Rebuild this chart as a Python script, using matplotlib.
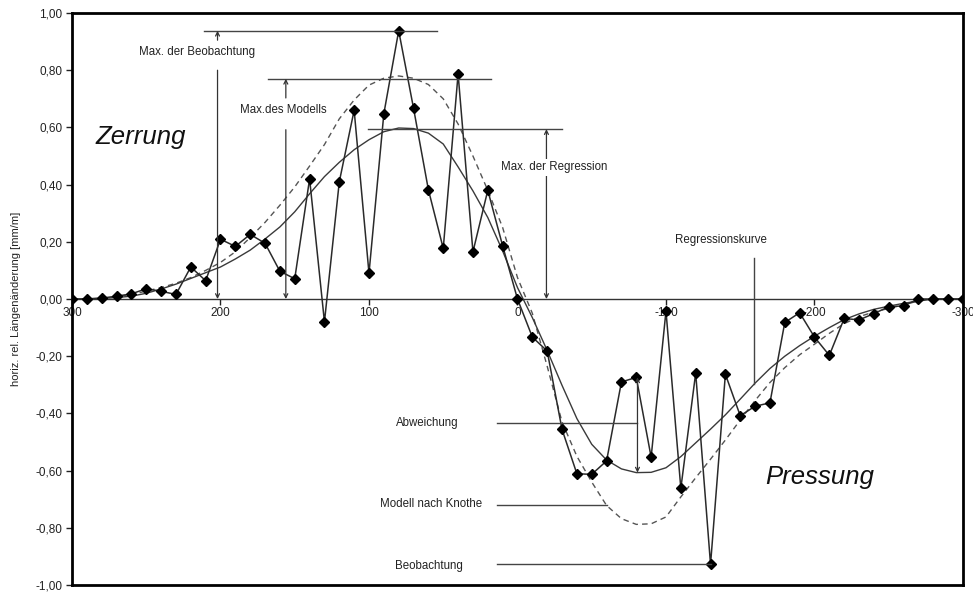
import numpy as np
import matplotlib
matplotlib.use("Agg")
import matplotlib.pyplot as plt

plt.rcParams['font.family'] = ['Liberation Sans', 'DejaVu Sans']

# Distance from the edge of the working [m]; every 10 m from 300 to -300
distance = list(range(300, -301, -10))

# Observed horizontal relative length change [mm/m]
observed = [
    0.000, 0.000, 0.003, 0.010, 0.018, 0.036, 0.027, 0.016, 0.112, 0.064,
    0.209, 0.184, 0.226, 0.195, 0.097, 0.071, 0.420, -0.080, 0.410, 0.660,
    0.090, 0.648, 0.938, 0.667, 0.382, 0.177, 0.787, 0.165, 0.380, 0.186,
    0.000,
    -0.133, -0.182, -0.456, -0.611, -0.613, -0.566, -0.290, -0.274, -0.553,
    -0.042, -0.662, -0.259, -0.928, -0.263, -0.408, -0.375, -0.363, -0.082,
    -0.048, -0.133, -0.197, -0.068, -0.073, -0.051, -0.027, -0.024, 0.000,
    0.000, 0.000, 0.000,
]

# Regression curve through the observations
regression = [
    0.000, 0.000, 0.002, 0.005, 0.010, 0.020, 0.035, 0.052, 0.072, 0.092,
    0.112, 0.140, 0.171, 0.210, 0.252, 0.305, 0.368, 0.428, 0.478, 0.522,
    0.557, 0.585, 0.598, 0.596, 0.580, 0.542, 0.462, 0.378, 0.285, 0.168,
    0.040,
    -0.065, -0.180, -0.302, -0.418, -0.508, -0.563, -0.594, -0.607, -0.606,
    -0.590, -0.551, -0.503, -0.455, -0.405, -0.350, -0.294, -0.243, -0.200,
    -0.163, -0.130, -0.100, -0.072, -0.052, -0.036, -0.025, -0.015, -0.007,
    0.000, 0.000, 0.000,
]

# Model after Knothe
model = [
    0.000, 0.001, 0.003, 0.008, 0.015, 0.028, 0.040, 0.055, 0.075, 0.100,
    0.128, 0.165, 0.215, 0.268, 0.328, 0.392, 0.465, 0.540, 0.630, 0.696,
    0.748, 0.772, 0.780, 0.772, 0.750, 0.700, 0.612, 0.500, 0.380, 0.250,
    0.075,
    -0.050, -0.235, -0.430, -0.550, -0.640, -0.722, -0.768, -0.788, -0.786,
    -0.762, -0.692, -0.625, -0.560, -0.493, -0.423, -0.355, -0.292, -0.240,
    -0.195, -0.158, -0.120, -0.086, -0.062, -0.045, -0.033, -0.020, -0.007,
    0.000, 0.000, 0.000,
]

y_ticks = [1.0, 0.8, 0.6, 0.4, 0.2, 0.0, -0.2, -0.4, -0.6, -0.8, -1.0]
x_ticks = [300, 200, 100, 0, -100, -200, -300]

fig = plt.figure(figsize=(9.73, 5.92), dpi=100)
ax = fig.add_axes([0.074, 0.0118, 0.9157, 0.9662])

ax.set_xlim(300, -300)
ax.set_ylim(-1.0, 1.0)

# curves
ax.plot(distance, model, color='#555555', lw=1.0, ls=(0, (4, 3)), zorder=2)
ax.plot(distance, regression, color='#3a3a3a', lw=1.0, zorder=2)
ax.plot(distance, observed, color='#2a2a2a', lw=1.1, marker='D', ms=4.8,
        mfc='black', mec='black', zorder=3)

# axes frame
for side in ('left', 'top', 'right'):
    ax.spines[side].set_linewidth(2.0)
    ax.spines[side].set_color('black')
ax.spines['bottom'].set_position(('data', 0))
ax.spines['bottom'].set_linewidth(1.0)
ax.spines['bottom'].set_color('#333333')
ax.plot([0, 1], [0, 0], transform=ax.transAxes, color='black', lw=2.0,
        clip_on=False, zorder=5)

ax.set_yticks(y_ticks)
ax.set_yticklabels([f"{v:.2f}".replace('.', ',') for v in y_ticks])
ax.set_xticks(x_ticks)
ax.set_xticklabels([str(v) for v in x_ticks])
ax.tick_params(axis='y', direction='out', length=4, width=1, labelsize=8.5,
               colors='#222222', pad=3)
ax.tick_params(axis='x', direction='out', length=4, width=1, labelsize=8.5,
               colors='#222222', pad=2)

ax.set_ylabel('horiz. rel. Längenänderung [mm/m]', fontsize=8, color='#222222',
              labelpad=10)

line_kw = dict(color='#444444', lw=1.0, zorder=4)
arrow_kw = dict(arrowstyle='->', color='#333333', lw=0.9, mutation_scale=7,
                shrinkA=0, shrinkB=0)
text_kw = dict(fontsize=8.3, color='#222222', zorder=6)


def vline_arrow(x, y0, y1):
    ax.annotate('', xy=(x, y1), xytext=(x, y0), arrowprops=arrow_kw, zorder=4)


# Max. der Beobachtung
obs_max = max(observed)
ax.plot([211, 54], [obs_max, obs_max], **line_kw)
vline_arrow(202, 0.905, obs_max)
vline_arrow(202, 0.800, 0.0)
ax.text(216, 0.862, 'Max. der Beobachtung', ha='center', va='center',
        bbox=dict(fc='white', ec='none', pad=1.0), **text_kw)

# Max. des Modells
model_line = 0.770
ax.plot([168, 18], [model_line, model_line], **line_kw)
vline_arrow(156, 0.703, model_line)
vline_arrow(156, 0.592, 0.0)
ax.text(158, 0.660, 'Max.des Modells', ha='center', va='center',
        bbox=dict(fc='white', ec='none', pad=1.0), **text_kw)

# Max. der Regression
reg_line = 0.594
ax.plot([101, -30], [reg_line, reg_line], **line_kw)
ax.annotate('', xy=(-19.5, reg_line), xytext=(-19.5, 0.0),
            arrowprops=dict(arrowstyle='<->', color='#333333', lw=0.9,
                            mutation_scale=7, shrinkA=0, shrinkB=0), zorder=4)
ax.text(11, 0.460, 'Max. der Regression', ha='left', va='center',
        bbox=dict(fc='white', ec='none', pad=1.5), **text_kw)

# Regressionskurve
ax.plot([-159, -159], [0.143, -0.297], **line_kw)
ax.text(-137, 0.206, 'Regressionskurve', ha='center', va='center', **text_kw)

# Abweichung
ax.plot([13.5, -80.8], [-0.434, -0.434], **line_kw)
ax.annotate('', xy=(-80.8, -0.274), xytext=(-80.8, -0.607),
            arrowprops=dict(arrowstyle='<->', color='#333333', lw=0.9,
                            mutation_scale=7, shrinkA=0, shrinkB=0), zorder=4)
ax.text(60.5, -0.434, 'Abweichung', ha='center', va='center', **text_kw)

# Modell nach Knothe
ax.plot([13.5, -60.4], [-0.720, -0.720], **line_kw)
ax.text(58.5, -0.716, 'Modell nach Knothe', ha='center', va='center', **text_kw)

# Beobachtung
ax.plot([13.5, -130], [-0.928, -0.928], **line_kw)
ax.text(59.3, -0.932, 'Beobachtung', ha='center', va='center', **text_kw)

# Zerrung / Pressung
ax.text(284, 0.566, 'Zerrung', ha='left', va='center', fontsize=18.5,
        style='italic', color='#111111')
ax.text(-167, -0.622, 'Pressung', ha='left', va='center', fontsize=18.5,
        style='italic', color='#111111')

fig.savefig('out.png', dpi=100)
